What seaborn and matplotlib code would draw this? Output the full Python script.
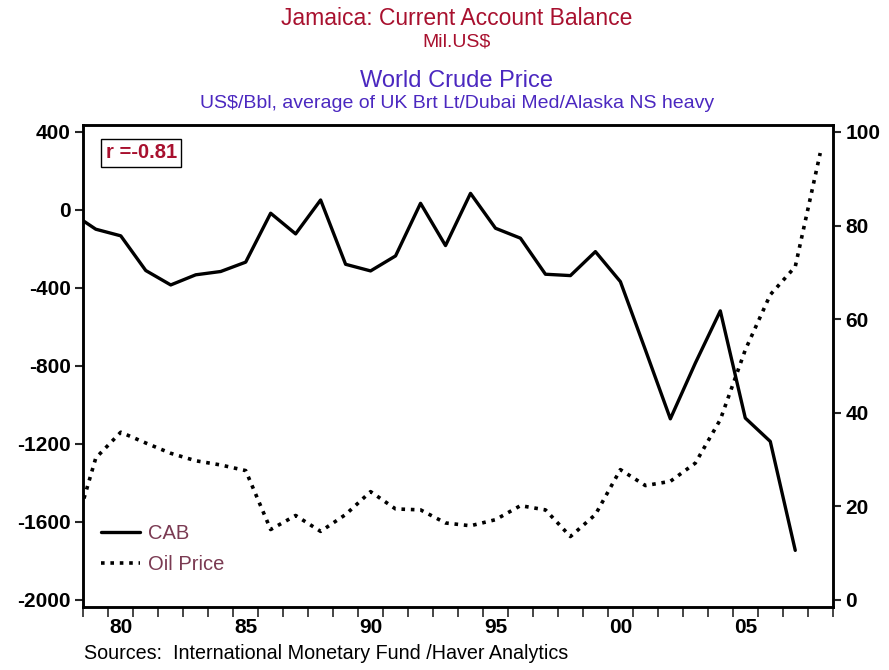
import matplotlib
matplotlib.use("Agg")
import matplotlib.pyplot as plt
import seaborn as sns
import pandas as pd

# annual data, plotted at mid-year
years = list(range(1978, 2009))
cab = [-13, -99, -133, -311, -385, -333, -316, -268, -17, -123, 51, -279, -313, -236, 34,
       -183, 85, -94, -145, -330, -337, -214, -368, -718, -1072, -786, -518, -1068, -1188,
       -1747, None]
oil = [12.0, 30.3, 35.8, 33.5, 31.3, 29.7, 28.8, 27.6, 15.0, 18.0, 14.6, 18.2, 23.1, 19.4,
       19.2, 16.4, 15.8, 17.1, 20.1, 19.2, 13.5, 18.2, 27.8, 24.4, 25.3, 29.2, 38.5, 53.4,
       65.2, 71.2, 95.5]

df = pd.DataFrame({"year": [y + 0.5 for y in years], "CAB": cab, "Oil": oil})
df["CAB"] = df["CAB"].astype(float)

red = "#A8102E"
blue = "#4B28C0"
mauve = "#7A3A52"

sns.set_style("white")
plt.rcParams["font.family"] = ["Liberation Sans", "DejaVu Sans"]
plt.rcParams["axes.unicode_minus"] = False

fig = plt.figure(figsize=(8.89, 6.70), dpi=100)
ax = fig.add_axes([0.0937, 0.0945, 0.843, 0.719])
ax2 = ax.twinx()

sns.lineplot(data=df, x="year", y="CAB", ax=ax, color="black", linewidth=2.4, label="CAB", legend=False)
sns.lineplot(data=df, x="year", y="Oil", ax=ax2, color="black", linewidth=2.6,
             linestyle=(0, (1, 1.6)), label="Oil Price", legend=False)

ax.set_xlim(1979, 2009)
ax.set_ylim(-2036, 436)
ax2.set_ylim(-1.5, 101.5)

ax.set_yticks([400, 0, -400, -800, -1200, -1600, -2000])
ax2.set_yticks([0, 20, 40, 60, 80, 100])
xlab_years = [1980, 1985, 1990, 1995, 2000, 2005]
ax.set_xticks([y + 0.5 for y in xlab_years])
ax.set_xticklabels([str(y)[2:] for y in xlab_years])
ax.set_xticks(list(range(1979, 2010)), minor=True)

for a in (ax, ax2):
    a.set_xlabel("")
    a.set_ylabel("")
    for s in a.spines.values():
        s.set_linewidth(1.8)
        s.set_color("black")

ax.tick_params(axis="x", which="major", length=0, pad=8, labelsize=15, labelcolor="black")
ax.tick_params(axis="x", which="minor", length=7, width=1.2, direction="out", bottom=True)
ax.tick_params(axis="y", length=6, width=1.5, direction="out", left=True, labelsize=15,
               pad=3, labelcolor="black")
ax2.tick_params(axis="y", length=6, width=1.5, direction="out", right=True, labelsize=15,
                pad=3, labelcolor="black")
for lab in ax.get_xticklabels() + ax.get_yticklabels() + ax2.get_yticklabels():
    lab.set_fontweight("bold")

ax.text(0.03, 0.942, "r =-0.81", transform=ax.transAxes, fontsize=14.5, fontweight="bold",
        color=red, va="center", ha="left",
        bbox=dict(boxstyle="square,pad=0.22", fc="white", ec="black", lw=1))

h1, l1 = ax.get_legend_handles_labels()
h2, l2 = ax2.get_legend_handles_labels()
leg = ax2.legend(h1 + h2, l1 + l2, loc="lower left", bbox_to_anchor=(0.0, 0.03),
                 frameon=False, fontsize=14.5, handlelength=1.9, handletextpad=0.4,
                 labelspacing=0.6)
for t in leg.get_texts():
    t.set_color(mauve)

fig.text(0.514, 0.972, "Jamaica: Current Account Balance", ha="center", va="center", fontsize=16.5, color=red)
fig.text(0.514, 0.938, "Mil.US$", ha="center", va="center", fontsize=14, color=red)
fig.text(0.514, 0.879, "World Crude Price", ha="center", va="center", fontsize=17, color=blue)
fig.text(0.514, 0.845, "US$/Bbl, average of UK Brt Lt/Dubai Med/Alaska NS heavy", ha="center",
         va="center", fontsize=14, color=blue)
fig.text(0.095, 0.025, "Sources:  International Monetary Fund /Haver Analytics", ha="left",
         va="center", fontsize=14.2, color="black")

fig.savefig("out.png", dpi=100)
